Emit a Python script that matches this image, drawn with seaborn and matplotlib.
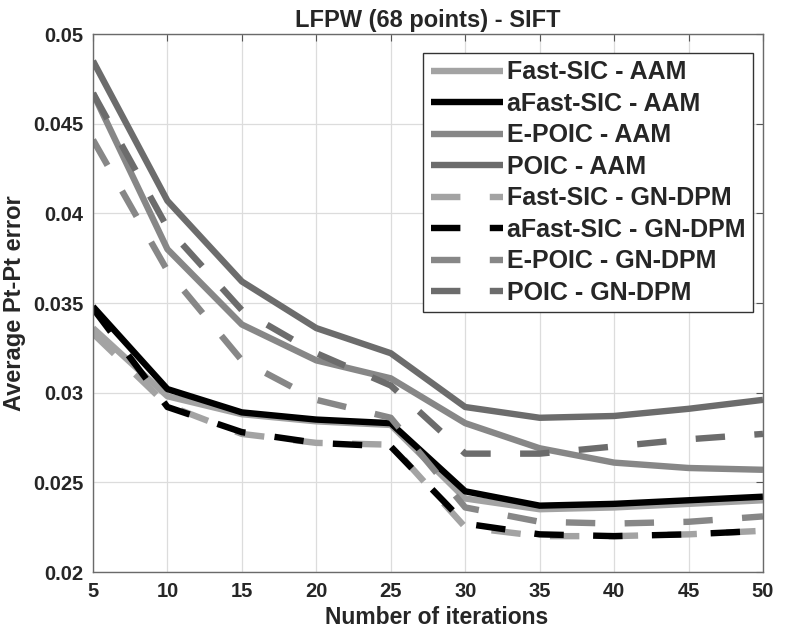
import numpy as np
import pandas as pd
import matplotlib
matplotlib.use("Agg")
import matplotlib.pyplot as plt
import seaborn as sns

# iterations on the x axis
iterations = [5, 10, 15, 20, 25, 30, 35, 40, 45, 50]

# AAM curves (solid)
fast_sic_aam = [0.0336, 0.0298, 0.0288, 0.0284, 0.0282, 0.0241, 0.0235, 0.0236, 0.0238, 0.0240]
afast_sic_aam = [0.0348, 0.0302, 0.0289, 0.0285, 0.0283, 0.0245, 0.0237, 0.0238, 0.0240, 0.0242]
epoic_aam = [0.0467, 0.0380, 0.0338, 0.0318, 0.0308, 0.0283, 0.0269, 0.0261, 0.0258, 0.0257]
poic_aam = [0.0485, 0.0407, 0.0362, 0.0336, 0.0322, 0.0292, 0.0286, 0.0287, 0.0291, 0.0296]

# GN-DPM curves (dashed)
fast_sic_gn = [0.0333, 0.0293, 0.0277, 0.0272, 0.0271, 0.0225, 0.0220, 0.0220, 0.0221, 0.0223]
afast_sic_gn = [0.0347, 0.0292, 0.0278, 0.0272, 0.0270, 0.0227, 0.0221, 0.0220, 0.0221, 0.0223]
epoic_gn = [0.0441, 0.0368, 0.0318, 0.0296, 0.0286, 0.0236, 0.0228, 0.0227, 0.0228, 0.0231]
poic_gn = [0.0467, 0.0392, 0.0346, 0.0322, 0.0304, 0.0266, 0.0266, 0.0270, 0.0274, 0.0277]

labels = ['Fast-SIC - AAM', 'aFast-SIC - AAM', 'E-POIC - AAM', 'POIC - AAM',
          'Fast-SIC - GN-DPM', 'aFast-SIC - GN-DPM', 'E-POIC - GN-DPM', 'POIC - GN-DPM']
series = [fast_sic_aam, afast_sic_aam, epoic_aam, poic_aam,
          fast_sic_gn, afast_sic_gn, epoic_gn, poic_gn]
greys = ['#a3a3a3', '#000000', '#878787', '#6c6c6c'] * 2

df = pd.DataFrame({
    'iter': iterations * len(labels),
    'err': np.concatenate(series),
    'label': np.repeat(labels, len(iterations)),
})

sns.set_style("white")
plt.rcParams['font.family'] = ['Liberation Sans', 'DejaVu Sans']
plt.rcParams['font.weight'] = 'bold'

fig = plt.figure(figsize=(7.86, 6.31), dpi=100)
ax = fig.add_axes([0.1183, 0.0935, 0.8524, 0.8526])

palette = dict(zip(labels, greys))
dashes = {lab: ('' if 'AAM' in lab else (4.6, 4.6)) for lab in labels}

sns.lineplot(data=df, x='iter', y='err', hue='label', style='label',
             hue_order=labels, style_order=labels,
             palette=palette, dashes=dashes, linewidth=4.6, ax=ax)

for ln in ax.get_lines():
    ln.set_dash_capstyle('butt')
    ln.set_solid_capstyle('butt')

ax.set_xlim(5, 50)
ax.set_ylim(0.02, 0.05)
ax.set_xticks(range(5, 51, 5))
ax.set_yticks([0.02, 0.025, 0.03, 0.035, 0.04, 0.045, 0.05])
ax.set_yticklabels(['0.02', '0.025', '0.03', '0.035', '0.04', '0.045', '0.05'])
ax.grid(True, color='#dcdcdc', linewidth=0.9)
ax.tick_params(direction='in', length=5, width=0.8, color='#555555',
               top=True, right=True, labelsize=14.5, pad=7)
for sp in ax.spines.values():
    sp.set_color('#6a6a6a')
    sp.set_linewidth(1.0)

ax.set_title('LFPW (68 points) - SIFT', fontsize=17, fontweight='bold', pad=5)
ax.set_xlabel('Number of iterations', fontsize=16.5, fontweight='bold')
ax.xaxis.set_label_coords(0.513, -0.063)
ax.set_ylabel('Average Pt-Pt error', fontsize=17, fontweight='bold', labelpad=5)

leg = ax.legend(loc='upper right', bbox_to_anchor=(0.985, 0.965), fancybox=False,
                framealpha=1, edgecolor='#333333', fontsize=18,
                handlelength=2.9, handletextpad=0.15, labelspacing=0.3,
                borderpad=0.3, borderaxespad=0)
leg.get_frame().set_linewidth(1.0)
for h in leg.get_lines():
    h.set_linewidth(4.6)

fig.savefig('out.png', dpi=100)
